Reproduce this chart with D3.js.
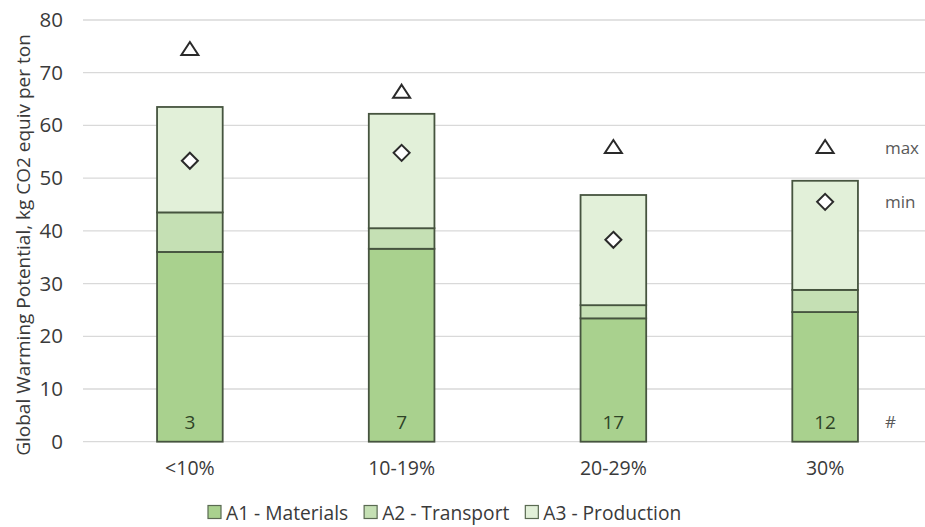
<!DOCTYPE html>
<html>
<head>
<meta charset="utf-8">
<script src="https://cdn.jsdelivr.net/npm/d3@7"></script>
<style>
  html, body { margin: 0; padding: 0; background: #ffffff; }
  svg { display: block; font-family: "Open Sans", sans-serif; }
</style>
</head>
<body>
<svg id="chart" width="925" height="527"></svg>
<script>
// ---- data ----
const categories = ["<10%", "10-19%", "20-29%", "30%"];
const seriesNames = ["A1 - Materials", "A2 - Transport", "A3 - Production"];
const a1Materials = [36.0, 36.6, 23.4, 24.6];
const a2Transport = [7.5, 3.9, 2.5, 4.2];
const a3Production = [20.0, 21.7, 20.9, 20.7];
const maxValues = [74.5, 66.4, 55.9, 55.9];
const minValues = [53.3, 54.8, 38.3, 45.5];
const counts = [3, 7, 17, 12];
const yTicks = [0, 10, 20, 30, 40, 50, 60, 70, 80];
const yTitle = "Global Warming Potential, kg CO2 equiv per ton";
const markerLabels = ["max", "min", "#"];

// ---- styles ----
const fills = ["#a9d18e", "#c5e0b4", "#e2f0d9"];
const barStroke = "#46543f";
const textColor = "#3a3a3a";

const svg = d3.select("#chart");
const W = 925, H = 527;

const x = d3.scaleBand()
  .domain(categories)
  .range([84, 931])
  .paddingInner(0.69)
  .paddingOuter(0.345);

const y = d3.scaleLinear().domain([0, 80]).range([441.7, 20]);

// gridlines
svg.append("g").selectAll("line")
  .data(yTicks)
  .join("line")
  .attr("x1", 83).attr("x2", W)
  .attr("y1", d => y(d)).attr("y2", d => y(d))
  .attr("stroke", "#d9d9d9").attr("stroke-width", 1.3);

// y axis tick labels
const yAxis = d3.axisLeft(y).tickValues(yTicks).tickSize(0).tickPadding(0);
const yg = svg.append("g").attr("transform", "translate(63,0)").call(yAxis);
yg.select(".domain").remove();
yg.selectAll("text")
  .attr("fill", textColor)
  .style("font-size", "20.5px")
  .style("font-family", "'Open Sans', sans-serif");

// y title
svg.append("text")
  .attr("transform", `translate(23,${245}) rotate(-90)`)
  .attr("text-anchor", "middle")
  .attr("dominant-baseline", "central")
  .attr("fill", textColor)
  .style("font-size", "19px")
  .text(yTitle);

// stacked bars
const rows = categories.map((c, i) => ({
  cat: c, a1: a1Materials[i], a2: a2Transport[i], a3: a3Production[i]
}));
const stack = d3.stack().keys(["a1", "a2", "a3"]);
const stacked = stack(rows);

const barG = svg.append("g");
stacked.forEach((layer, li) => {
  barG.append("g").selectAll("rect")
    .data(layer)
    .join("rect")
    .attr("x", d => x(d.data.cat))
    .attr("width", x.bandwidth())
    .attr("y", d => y(d[1]))
    .attr("height", d => y(d[0]) - y(d[1]))
    .attr("fill", fills[li])
    .attr("stroke", barStroke)
    .attr("stroke-width", 1.8);
});

// count labels inside base
svg.append("g").selectAll("text")
  .data(counts)
  .join("text")
  .attr("x", (d, i) => x(categories[i]) + x.bandwidth() / 2)
  .attr("y", y(0) - 20)
  .attr("text-anchor", "middle")
  .attr("dominant-baseline", "central")
  .attr("fill", "#2f4427")
  .style("font-size", "19px")
  .text(d => d);

// max markers (triangles)
const tri = "M0,-7 L8.5,6 L-8.5,6 Z";
svg.append("g").selectAll("path")
  .data(maxValues)
  .join("path")
  .attr("d", tri)
  .attr("transform", (d, i) => `translate(${x(categories[i]) + x.bandwidth() / 2},${y(d)})`)
  .attr("fill", "none")
  .attr("stroke", "#2a2a2a")
  .attr("stroke-width", 2)
  .attr("stroke-linejoin", "miter");

// min markers (diamonds)
const dia = "M0,-8 L8,0 L0,8 L-8,0 Z";
svg.append("g").selectAll("path")
  .data(minValues)
  .join("path")
  .attr("d", dia)
  .attr("transform", (d, i) => `translate(${x(categories[i]) + x.bandwidth() / 2},${y(d)})`)
  .attr("fill", "#ffffff")
  .attr("stroke", "#2a2a2a")
  .attr("stroke-width", 2);

// right side labels: max / min / #
const last = categories.length - 1;
const labelX = x(categories[last]) + x.bandwidth() + 27;
const labelYs = [y(maxValues[last]), y(minValues[last]), y(0) - 20];
svg.append("g").selectAll("text")
  .data(markerLabels)
  .join("text")
  .attr("x", labelX)
  .attr("y", (d, i) => labelYs[i])
  .attr("dominant-baseline", "central")
  .attr("fill", "#595959")
  .style("font-size", "17px")
  .text(d => d);

// x axis labels
const xAxis = d3.axisBottom(x).tickSize(0).tickPadding(0);
const xg = svg.append("g").attr("transform", "translate(0,461)").call(xAxis);
xg.select(".domain").remove();
xg.selectAll("text")
  .attr("fill", textColor)
  .style("font-size", "19.5px")
  .style("font-family", "'Open Sans', sans-serif");

// legend
const legend = svg.append("g").attr("transform", "translate(208,512)");
let lx = 0;
seriesNames.forEach((name, i) => {
  const g = legend.append("g").attr("transform", `translate(${lx},0)`);
  g.append("rect")
    .attr("x", 0).attr("y", -6.5)
    .attr("width", 13).attr("height", 13)
    .attr("fill", fills[i])
    .attr("stroke", "#5a6a52").attr("stroke-width", 1.2);
  const t = g.append("text")
    .attr("x", 18)
    .attr("y", 0)
    .attr("dominant-baseline", "central")
    .attr("fill", textColor)
    .style("font-size", "19.2px")
    .text(name);
  lx += 18 + t.node().getComputedTextLength() + 16;
});
</script>
</body>
</html>
